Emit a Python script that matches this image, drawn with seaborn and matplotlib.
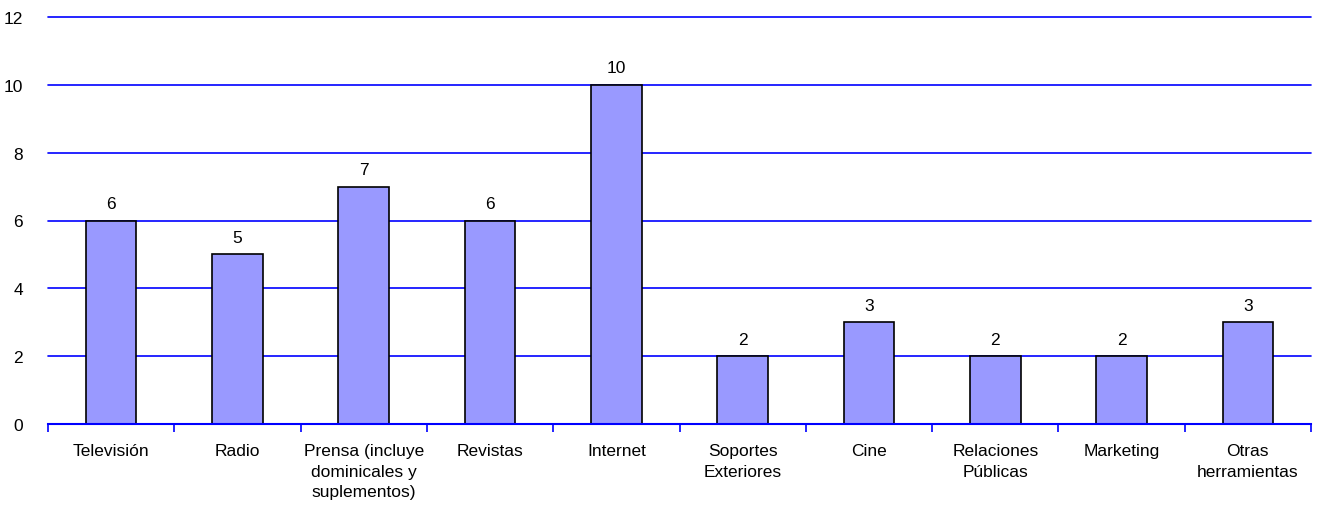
import matplotlib
matplotlib.use("Agg")
import matplotlib.pyplot as plt
import seaborn as sns
import pandas as pd
import numpy as np

categories = ["Televisión", "Radio", "Prensa (incluye\ndominicales y\nsuplementos)", "Revistas",
              "Internet", "Soportes\nExteriores", "Cine", "Relaciones\nPúblicas", "Marketing",
              "Otras\nherramientas"]
values = [6, 5, 7, 6, 10, 2, 3, 2, 2, 3]
yticks = [0, 2, 4, 6, 8, 10, 12]

sns.set_theme(style="white")
plt.rcParams['font.family'] = ['Liberation Sans', 'DejaVu Sans']

df = pd.DataFrame({"cat": categories, "val": values})

fig = plt.figure(figsize=(13.17, 5.10), dpi=100)
ax = fig.add_axes([48/1317, 1-425/510, (1311-48)/1317, (425-18)/510])

sns.barplot(data=df, x="cat", y="val", ax=ax, color="#9999FF", width=0.4,
            edgecolor="black", linewidth=1.2, saturation=1, zorder=3)

ax.set_ylim(0, 12)
ax.set_xlim(-0.5, len(categories) - 0.5)
ax.set_yticks(yticks)
ax.set_yticklabels([str(t) for t in yticks], fontsize=12.5, color="black")
for t in yticks[1:]:
    ax.axhline(t, color="#0000FF", linewidth=1.2, zorder=1, clip_on=False)

for i, v in enumerate(values):
    ax.text(i, v + 0.28, str(v), ha="center", va="bottom", fontsize=12.5, color="black")

ax.set_xticks(range(len(categories)))
ax.set_xticklabels(categories, fontsize=12.5, linespacing=1.45, color="black")
ax.set_xticks(np.arange(-0.5, len(categories), 1), minor=True)
ax.tick_params(axis="x", which="both", bottom=True)
ax.tick_params(axis="x", which="major", length=0, pad=14)
ax.tick_params(axis="x", which="minor", length=6, direction="out", color="#0000FF", width=1.2)
ax.tick_params(axis="y", length=0, pad=18)

for s in ["top", "right", "left"]:
    ax.spines[s].set_visible(False)
ax.spines["bottom"].set_color("#0000FF")
ax.spines["bottom"].set_linewidth(1.5)
ax.spines["bottom"].set_zorder(4)
ax.set_xlabel("")
ax.set_ylabel("")

fig.savefig("out.png", dpi=100)
